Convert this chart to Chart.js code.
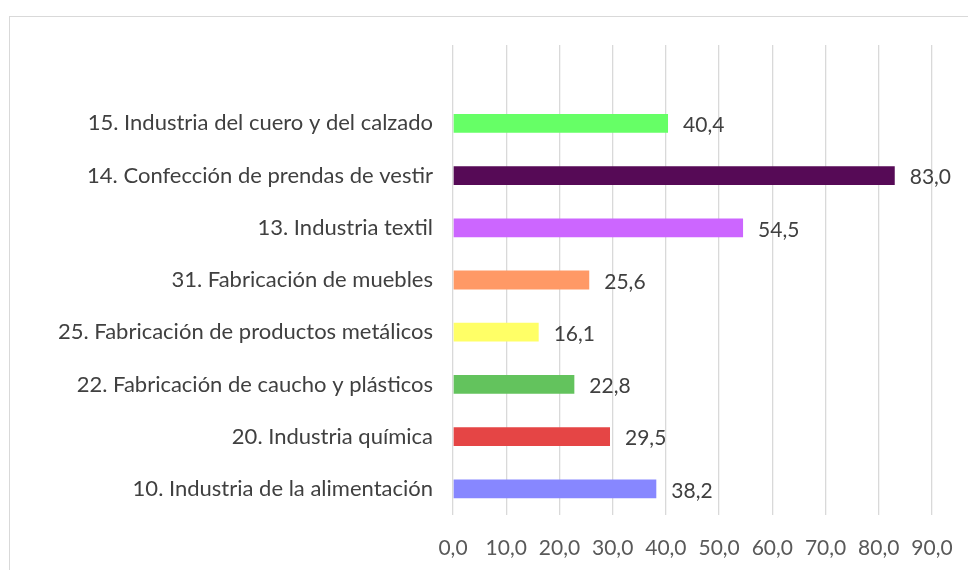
<!DOCTYPE html>
<html>
<head>
<meta charset="utf-8">
<script src="https://cdn.jsdelivr.net/npm/chart.js@4.4.0/dist/chart.umd.min.js"></script>
<style>
    html, body { margin: 0; padding: 0; background: #fff; overflow: hidden; }
    #marco { position: absolute; left: 9px; top: 16px; width: 1000px; height: 600px; border: 1px solid #d9d9d9; }
    #contenedor { position: absolute; left: 0; top: 0; width: 968px; height: 570px; }
</style>
</head>
<body>
<div id="marco"></div>
<div id="contenedor"><canvas id="grafico"></canvas></div>
<script>
// la primera categoría va vacía: deja el hueco de arriba que tiene el gráfico original
const categorias = [
    "",
    "15. Industria del cuero y del calzado",
    "14. Confección de prendas de vestir",
    "13. Industria textil",
    "31. Fabricación de muebles",
    "25. Fabricación de productos metálicos",
    "22. Fabricación de caucho y plásticos",
    "20. Industria química",
    "10. Industria de la alimentación"
];
const valores = [null, 40.4, 83.0, 54.5, 25.6, 16.1, 22.8, 29.5, 38.2];
const colores = ["#ffffff", "#66FF66", "#560A56", "#CC66FF", "#FF9966", "#FFFF66", "#63C35D", "#E54545", "#8787FF"];
const ejeMin = 0;
const ejeMax = 90;
const ejePaso = 10;

const fuente = 'Lato, "Open Sans", sans-serif';
const formatear = v => v.toFixed(1).replace('.', ',');

const etiquetasValor = {
    id: 'etiquetasValor',
    afterDatasetsDraw(chart) {
        const ctx = chart.ctx;
        const meta = chart.getDatasetMeta(0);
        ctx.save();
        ctx.font = '21px ' + fuente;
        ctx.fillStyle = '#404040';
        ctx.textAlign = 'left';
        ctx.textBaseline = 'middle';
        meta.data.forEach((barra, i) => {
            const v = valores[i];
            if (v === null) return;
            ctx.fillText(formatear(v), barra.x + 15, barra.y + 2);
        });
        ctx.restore();
    }
};

new Chart(document.getElementById('grafico'), {
    type: 'bar',
    data: {
        labels: categorias,
        datasets: [{
            data: valores,
            backgroundColor: colores,
            barPercentage: 0.72,
            categoryPercentage: 0.5
        }]
    },
    options: {
        indexAxis: 'y',
        responsive: true,
        maintainAspectRatio: false,
        animation: false,
        layout: { padding: { left: 0, right: 36, top: 45, bottom: 0 } },
        plugins: {
            legend: { display: false },
            tooltip: { enabled: false }
        },
        scales: {
            x: {
                min: ejeMin,
                max: ejeMax,
                ticks: {
                    stepSize: ejePaso,
                    padding: 21,
                    color: '#595959',
                    font: { family: fuente, size: 21 },
                    callback: v => formatear(v),
                    maxRotation: 0,
                    autoSkip: false
                },
                grid: { color: '#d9d9d9', lineWidth: 1.3, drawTicks: false },
                border: { display: false },
                afterFit: s => { s.height = 55; s.paddingRight = 0; s.paddingLeft = 0; }
            },
            y: {
                ticks: {
                    padding: 20,
                    color: '#404040',
                    font: { family: fuente, size: 22 }
                },
                grid: { display: false, drawTicks: false },
                border: { display: false },
                afterFit: s => { s.width = 453; }
            }
        }
    },
    plugins: [etiquetasValor]
});
</script>
</body>
</html>
